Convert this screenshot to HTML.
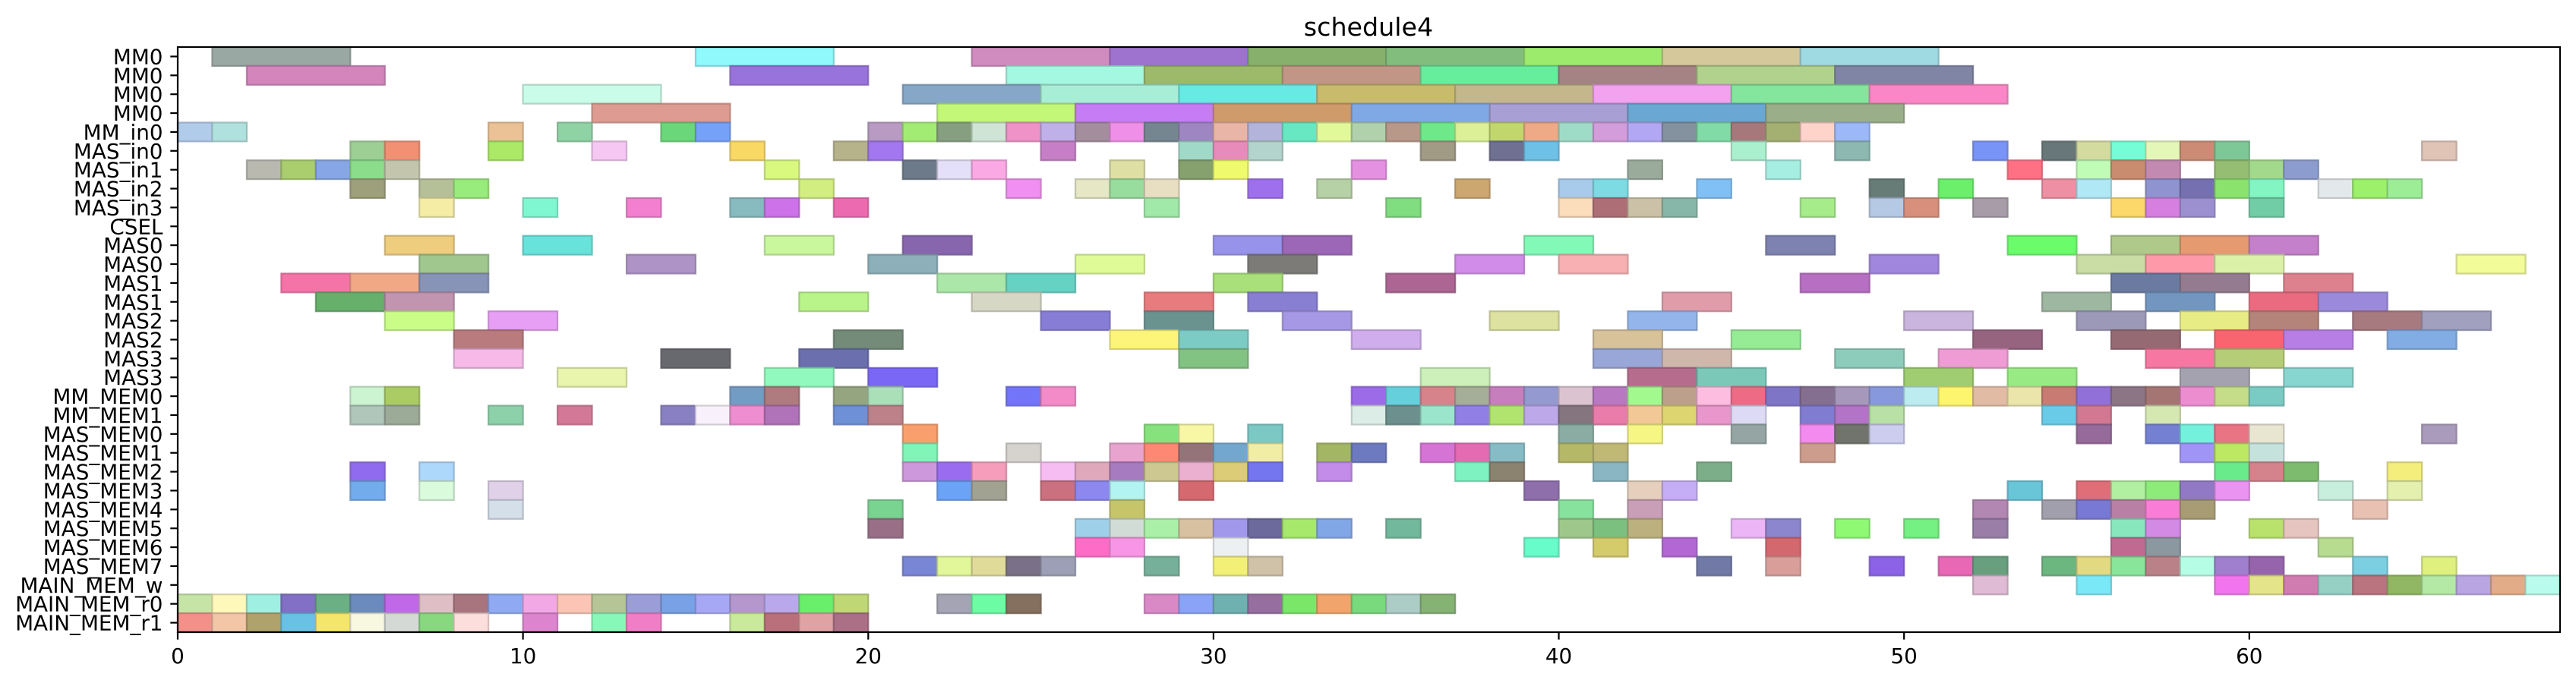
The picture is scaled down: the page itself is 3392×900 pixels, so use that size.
<!DOCTYPE html>
<html>
<head>
<meta charset="utf-8">
<style>
  html,body{margin:0;padding:0;background:#fff;}
  svg{display:block;}
  text{font-family:"DejaVu Sans","Liberation Sans",sans-serif;fill:#000;}
</style>
</head>
<body>
<svg id="chart" width="3392" height="900" viewBox="0 0 3392 900" xmlns="http://www.w3.org/2000/svg">
  <text x="1802" y="47" font-size="33.3" text-anchor="middle">schedule4</text>
  <g id="bars"></g>
  <g id="yaxis"></g>
  <g id="xaxis"></g>
  <rect x="234" y="62" width="3137" height="771" fill="none" stroke="#000" stroke-width="2.2"/>
</svg>
<script>
const rowLabels = ["MM0","MM0","MM0","MM0","MM_in0","MAS_in0","MAS_in1","MAS_in2","MAS_in3","CSEL","MAS0","MAS0","MAS1","MAS1","MAS2","MAS2","MAS3","MAS3","MM_MEM0","MM_MEM1","MAS_MEM0","MAS_MEM1","MAS_MEM2","MAS_MEM3","MAS_MEM4","MAS_MEM5","MAS_MEM6","MAS_MEM7","MAIN_MEM_w","MAIN_MEM_r0","MAIN_MEM_r1"];
const xTicks = [0,10,20,30,40,50,60];
const xMin = 0, xMax = 69;
const rowDuration = [4,4,4,4,1,1,1,1,1,1,2,2,2,2,2,2,2,2,1,1,1,1,1,1,1,1,1,1,1,1,1];
const taskStarts = [
 [1,15,23,27,31,35,39,43,47],
 [2,16,24,28,32,36,40,44,48],
 [10,21,25,29,33,37,41,45,49],
 [12,22,26,30,34,38,42,46],
 [0,1,9,11,14,15,20,21,22,23,24,25,26,27,28,29,30,31,32,33,34,35,36,37,38,39,40,41,42,43,44,45,46,47,48],
 [5,6,9,12,16,19,20,25,29,30,31,36,38,39,45,48,52,54,55,56,57,58,59,65],
 [2,3,4,5,6,17,21,22,23,27,29,30,34,42,46,53,55,56,57,59,60,61],
 [5,7,8,18,24,26,27,28,31,33,37,40,41,44,49,51,54,55,57,58,59,60,62,63,64],
 [7,10,13,16,17,19,28,35,40,41,42,43,47,49,50,52,56,57,58,60],
 [],
 [6,10,17,21,30,32,39,46,53,56,58,60],
 [7,13,20,26,31,37,40,49,55,57,59,66],
 [3,5,7,22,24,30,35,47,56,58,61],
 [4,6,18,23,28,31,43,54,57,60,62],
 [6,9,25,28,32,38,42,50,55,58,60,63,65],
 [8,19,27,29,34,41,45,52,56,59,61,64],
 [8,14,18,29,41,43,48,51,57,59],
 [11,17,20,36,42,44,50,53,58,61],
 [5,6,16,17,19,20,24,25,34,35,36,37,38,39,40,41,42,43,44,45,46,47,48,49,50,51,52,53,54,55,56,57,58,59,60],
 [5,6,9,11,14,15,16,17,19,20,34,35,36,37,38,39,40,41,42,43,44,45,47,48,49,54,55,57],
 [21,28,29,31,40,42,45,47,48,49,55,57,58,59,60,65],
 [21,24,27,28,29,30,31,33,34,36,37,38,40,41,47,58,59,60],
 [5,7,21,22,23,25,26,27,28,29,30,31,33,37,38,41,44,59,60,61,64],
 [5,7,9,22,23,25,26,27,29,39,42,43,53,55,56,57,58,59,62,64],
 [9,20,27,40,42,52,54,55,56,57,58,63],
 [20,26,27,28,29,30,31,32,33,35,40,41,42,45,46,48,50,52,56,57,60,61],
 [26,27,30,39,41,43,46,56,57,62],
 [21,22,23,24,25,28,30,31,44,46,49,51,52,54,55,56,57,58,59,60,63,65],
 [52,55,59,60,61,62,63,64,65,66,67,68],
 [0,1,2,3,4,5,6,7,8,9,10,11,12,13,14,15,16,17,18,19,22,23,24,28,29,30,31,32,33,34,35,36],
 [0,1,2,3,4,5,6,7,8,10,12,13,16,17,18,19]
];
const taskColors = [
 ["#9aa8a3","#8ff9fb","#d08bbf","#9e72cf","#86b06c","#82bd7e","#9deb6d","#d5c89a","#9fdae2"],
 ["#d385bc","#9873dc","#a4f7e0","#9cba6a","#c29686","#66ee9d","#a58284","#b0d28c","#8085a5"],
 ["#c9fde9","#87a7c8","#a8eed6","#67e9e4","#c8bb6c","#c4b78c","#f2a2ef","#84e59c","#fb86c7"],
 ["#dd9b91","#c2f777","#c57cf5","#cf9b6a","#7fa9e5","#a89fd4","#6aa7d2","#9bae8a"],
 ["#b1cbea","#b1e1df","#ebc295","#8fd3a4","#6bd77b","#76a1f8","#b89ac2","#a3ec73","#879f81","#cfe4d5","#ee92c7","#c0b0e9","#a48e9e","#ef8fe7","#768691","#9e86c2","#e9b5a6","#b2b4db","#68e8c2","#e2f99a","#b0d1ab","#b89889","#6ee889","#dbf097","#c2d66e","#eea986","#9fdcc8","#d39cda","#b2a7f3","#83929e","#80dba6","#a6787c","#a3b072","#fed3c9","#9cb8f8"],
 ["#9dcf95","#f19073","#abe966","#f7c7f3","#fad864","#b6b38a","#a377ef","#c67fc6","#a1d9c9","#e88bbb","#b3d3cd","#a19a85","#6f7092","#6ec0e6","#aaefce","#8db8b2","#7894f6","#687779","#d4db9e","#74fdd6","#e5f7b8","#cc8b75","#7ec897","#e0c4b6"],
 ["#b9b9b0","#aace6e","#87a6e5","#8bdc8b","#c3c6ad","#d8f97e","#6d7a8a","#e5e0f9","#fba9e4","#dddfa3","#86a06e","#effa6c","#e591e1","#9aaa9b","#a6eee1","#fe7185","#c1fcb7","#c98c6f","#c28ab1","#96be73","#a3d98b","#8c9ccf"],
 ["#9ea07c","#b5bf98","#97ec7b","#d3ee80","#f28ff2","#e6e7c5","#98dd9e","#e8dfc3","#9e70ee","#b6d1a5","#cda770","#a8caeb","#7ddbe3","#80c0f5","#687c77","#6cf06c","#ef8fa3","#b0e8f5","#8f94d0","#7570b0","#8be36e","#82f5c3","#e3e8ea","#9cf06a","#9ded97"],
 ["#f5eca6","#7ff8d1","#f37fd0","#87bbbf","#cd72e9","#ec6bb0","#a0e9a8","#80dd80","#fbdcbb","#ad6f75","#cbc1a6","#86b7a8","#a6ec8b","#b5c9e5","#d8907d","#a89ca8","#fcd86a","#d67fe0","#9c90d0","#71cda5"],
 [],
 ["#eecd7e","#67e3dc","#c9f79e","#8866ae","#9793ea","#9c67b6","#82f9b6","#7d82b0","#6bfc6b","#aec989","#e69a70","#c480cb"],
 ["#a0c78d","#ae93c7","#8dafb9","#dffb97","#7d7b78","#d08ce8","#f8b0b2","#a186de","#c8dca4","#fd99a8","#daf1a7","#f2fc99"],
 ["#f574a8","#f1a985","#8894b7","#aae7a8","#66d2c4","#a9e079","#ad6593","#b66fc2","#6a7aa1","#947b8f","#de818e"],
 ["#67b06b","#c194b0","#b8f48a","#d7d7c5","#e87b7e","#887ed2","#e09ca8","#9eb7a0","#7296c0","#ea6b80","#9b8adc"],
 ["#c9fd88","#e69ff4","#887dd6","#6a9390","#a698e5","#dde2a0","#93b5eb","#cab5de","#9c99b8","#e8ec85","#b4847b","#a77a80","#a2a0bf"],
 ["#b97b7d","#738b78","#fdf57a","#7cccc5","#d0aeee","#d7c29a","#95ec95","#976480","#966a73","#f9656f","#b77fe6","#81ade4"],
 ["#f6b9e8","#68686f","#6c6fae","#82c383","#99a7d8","#d0b7ac","#8dcbba","#ef9cd4","#f677a2","#b6cd78"],
 ["#e9f4ac","#91f9bd","#7b67f5","#cdefba","#b66c8c","#7bc8b8","#a0cd71","#98eb84","#a5a2b0","#87d6d0"],
 ["#cdf4d1","#abcb64","#739cc4","#ae7b7e","#94a580","#aadfb8","#7375f9","#f28bc8","#9c6be8","#66cfdc","#d7838b","#a5ae98","#c77ebd","#9499cf","#dbc4d0","#b978c2","#a2fa8f","#bca08c","#fdbde0","#ed6b85","#7f75c7","#856f90","#a598ba","#8898dc","#bcecf0","#fdf56e","#e2bba5","#ebe5ac","#c87b72","#9171d8","#8c7585","#a57573","#ec8dcf","#c5dd88","#79cbc4"],
 ["#b0c6bb","#9caa98","#8dd1aa","#d47898","#8880c3","#f8f0fa","#ee8dcf","#b072b8","#6e90d6","#bd8289","#dcede8","#6b908d","#9ce5cd","#927fe6","#b1e46f","#bda9ea","#85757f","#e97caa","#f1c896","#ddd56f","#e896cb","#dcdaf5","#7f7cd1","#b374c7","#b9e0a6","#6acbe9","#d27892","#d6e8b2"],
 ["#f99f6e","#86e27c","#f7f7a6","#7bc8c4","#8aaca3","#f5f683","#95a5a3","#f28aef","#70746c","#cdcdf0","#966a9a","#7480d2","#74f1dc","#e97484","#e8e5d1","#aa9bbc"],
 ["#81f4b7","#d6d3ce","#e8a3ce","#fd8873","#957479","#73a7cf","#f2eda4","#a2b664","#6d7abf","#d674d6","#e46bb1","#86bcc6","#b5b867","#c0b975","#cc9c8d","#a094f6","#bce864","#c6e2dc"],
 ["#916bef","#aed8fb","#cd98dc","#9a6df0","#f59dbb","#f6bdf2","#e0a9bb","#a77bbf","#cdc891","#ebb0d0","#dccb77","#7476f0","#c28ce8","#7ef2c0","#8c8270","#89b6c2","#7dae8a","#6aeb8b","#d4828c","#7dbc6f","#f4ee7c"],
 ["#73aced","#dbfbdd","#e0d1e8","#6ba3f7","#a2a292","#ca707f","#8c88f0","#b1f4f2","#d46a6f","#8e6fab","#e6cfbc","#c5aef5","#69c6d9","#e06e78","#b0f0a0","#8deb7a","#9179c6","#ea93f0","#c8eedd","#e4f0ad"],
 ["#d4dfea","#79d391","#c6c56a","#86e29d","#c99eb7","#b287b2","#a19fac","#7879d4","#b97fa4","#f97dd6","#a89c74","#e8c1b3"],
 ["#996f88","#9fd0e9","#d2dcd6","#aaf0a8","#d7c1a0","#a198ec","#6c699d","#a7ea6b","#82a7e6","#72b89c","#9ec88b","#7bc07e","#bcb07e","#ebb5f6","#8c86ce","#8ff974","#75f083","#9a7ea8","#88e7bd","#d28ae4","#b8e26c","#e6c4bf"],
 ["#fd6dc8","#f995e6","#edf0f3","#67fcca","#d4cb6a","#b267d4","#d3686f","#c06a92","#8b98a0","#b7dc8f"],
 ["#7986d5","#e2f79a","#e1db9a","#7a7188","#9d9fb6","#76b09a","#f3f078","#cfc2a8","#717aa7","#d99e9a","#8c63e6","#e868b6","#68a07f","#6cb680","#e3d980","#88e59a","#bb8188","#b6fde6","#a080ce","#9664ac","#7ccfe0","#e0f07f"],
 ["#e0bbd5","#7be8f8","#f374ef","#e4e58a","#d07cb1","#96cfc4","#b97480","#91b664","#b4e8a5","#b9a5e2","#e2ac88","#b9fbec"],
 ["#c6e4a6","#fef8bb","#9ff0e3","#8270c6","#6baf85","#6b8abd","#c068e8","#dfbec5","#a8757e","#8faaf2","#f2a8e4","#fbc4b4","#b6c596","#9b9dd9","#78a1e6","#a6a7f5","#b596cd","#b9a9ec","#6aef6a","#bfd875","#a5a4b5","#6cfca4","#85705f","#da89c7","#8aa3f6","#6fb1b0","#966fa0","#7ae769","#f1a56c","#78d97d","#abcdc6","#85b374"],
 ["#f3908a","#f3c6a8","#afa26a","#69c2e5","#f3e66a","#f8f7e0","#d4d9d5","#88d880","#fcdfdd","#dd84cf","#88f8b8","#f07ec6","#c9ea9a","#b9707a","#e0a2a2","#ab6f86"]
];

const NS = "http://www.w3.org/2000/svg";
const plotLeft = 234, plotRight = 3371, plotTop = 62, plotBottom = 833;
const rowPitch = (plotBottom - plotTop) / rowLabels.length;
function xScale(v){ return plotLeft + (v - xMin) / (xMax - xMin) * (plotRight - plotLeft); }
function yScale(r){ return plotTop + (r + 0.5) * rowPitch; }
function darker(hex){
  const n = parseInt(hex.slice(1),16);
  const r = Math.round(((n>>16)&255)*0.8), g = Math.round(((n>>8)&255)*0.8), b = Math.round((n&255)*0.8);
  return "rgb("+r+","+g+","+b+")";
}

const barsG = document.getElementById("bars");
for (let r = 0; r < rowLabels.length; r++) {
  const starts = taskStarts[r] || [];
  for (let i = 0; i < starts.length; i++) {
    const x1 = xScale(starts[i]);
    const x2 = xScale(starts[i] + rowDuration[r]);
    const rect = document.createElementNS(NS, "rect");
    rect.setAttribute("x", x1);
    rect.setAttribute("y", yScale(r) - rowPitch/2);
    rect.setAttribute("width", Math.min(x2, plotRight) - x1);
    rect.setAttribute("height", rowPitch);
    const c = taskColors[r][i] || "#cccccc";
    rect.setAttribute("fill", c);
    rect.setAttribute("stroke", darker(c));
    rect.setAttribute("stroke-width", "2.2");
    rect.setAttribute("stroke-opacity", "0.8");
    
    
    barsG.appendChild(rect);
  }
}

const yG = document.getElementById("yaxis");
for (let r = 0; r < rowLabels.length; r++) {
  const y = yScale(r);
  const tick = document.createElementNS(NS, "line");
  tick.setAttribute("x1", plotLeft - 9.7); tick.setAttribute("x2", plotLeft);
  tick.setAttribute("y1", y); tick.setAttribute("y2", y);
  tick.setAttribute("stroke", "#000"); tick.setAttribute("stroke-width", "2.2");
  
  
  yG.appendChild(tick);
  const t = document.createElementNS(NS, "text");
  t.setAttribute("x", plotLeft - 19.5);
  t.setAttribute("y", y + 10);
  t.setAttribute("font-size", "27.8");
  t.setAttribute("text-anchor", "end");
  t.textContent = rowLabels[r];
  
  
  yG.appendChild(t);
}

const xG = document.getElementById("xaxis");
for (let i = 0; i < xTicks.length; i++) {
  const x = xScale(xTicks[i]);
  const tick = document.createElementNS(NS, "line");
  tick.setAttribute("x1", x); tick.setAttribute("x2", x);
  tick.setAttribute("y1", plotBottom); tick.setAttribute("y2", plotBottom + 9.7);
  tick.setAttribute("stroke", "#000"); tick.setAttribute("stroke-width", "2.2");
  
  
  xG.appendChild(tick);
  const t = document.createElementNS(NS, "text");
  t.setAttribute("x", x);
  t.setAttribute("y", plotBottom + 41);
  t.setAttribute("font-size", "27.8");
  t.setAttribute("text-anchor", "middle");
  t.textContent = String(xTicks[i]);
  
  
  xG.appendChild(t);
}
</script>
</body>
</html>
